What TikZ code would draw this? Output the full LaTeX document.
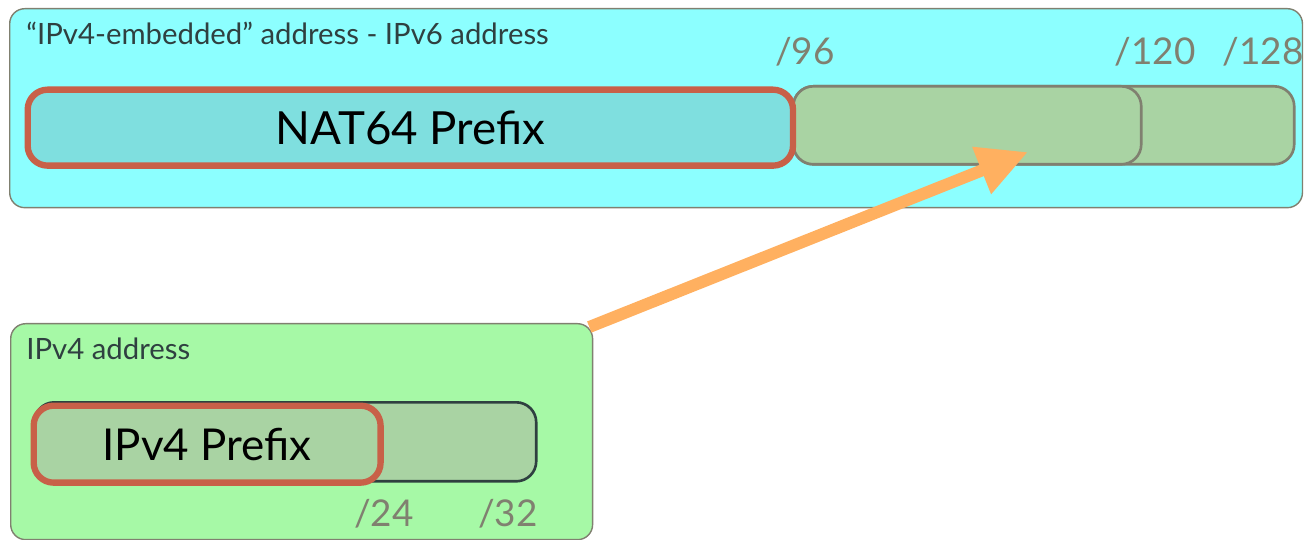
\documentclass[tikz,border=0pt]{standalone}
\usepackage{fontspec}
\setmainfont{Lato}
\usetikzlibrary{positioning,arrows.meta}
\definecolor{vsixbg}{HTML}{8CFFFF}
\definecolor{vfourbg}{HTML}{A6F9A6}
\definecolor{prefixfill}{HTML}{7FDFDF}
\definecolor{hostfill}{HTML}{A9D3A3}
\definecolor{prefixline}{HTML}{C86048}
\definecolor{greyline}{HTML}{808070}
\definecolor{darktext}{HTML}{2F4040}
\definecolor{arrowcol}{HTML}{FFB060}
\tikzset{
    area/.style={draw=greyline, line width=0.8pt, rounded corners=0.3cm, anchor=north west, inner sep=0pt},
    field/.style={draw=greyline, fill=hostfill, line width=1.5pt, rounded corners=0.4cm, anchor=north west, inner sep=0pt},
    prefixbox/.style={draw=prefixline, line width=3.6pt, rounded corners=0.4cm, anchor=north west, inner sep=0pt, font=\fontsize{26}{30}\selectfont},
    title/.style={anchor=north west, text=darktext, inner sep=0pt, font=\fontsize{16.7}{20}\selectfont},
    bits/.style={text=greyline, inner sep=0pt, font=\fontsize{21}{24}\selectfont}
}

\begin{document}
\begin{tikzpicture}[x=0.02cm, y=-0.02cm]
    \useasboundingbox (0,0) rectangle (1304,540);

    % IPv6 address with the embedded IPv4 part
    \node[area, fill=vsixbg, minimum width=25.86cm, minimum height=3.98cm] (v6) at (9,8) {};
    \node[title] (v6title) at (26,22) {“IPv4-embedded” address - IPv6 address};
    \node[field, minimum width=10.02cm, minimum height=1.56cm] (host6) at (792,85) {};
    \node[field, minimum width=6.96cm, minimum height=1.56cm] (embed) at (792,85) {};
    \node[prefixbox, fill=prefixfill, minimum width=15.31cm, minimum height=1.52cm] (nat64) at (24.5,86.5) {NAT64 Prefix};
    \node[bits] (b96) at (805,52) {/96};
    \node[bits] (b120) at (1155,52) {/120};
    \node[bits] (b128) at (1263,52) {/128};

    % IPv4 address
    \node[area, fill=vfourbg, minimum width=11.64cm, minimum height=4.32cm] (v4) at (10,323) {};
    \node[title] (v4title) at (26,338) {IPv4 address};
    \node[field, draw=darktext, minimum width=10.04cm, minimum height=1.58cm] (host4) at (33,401) {};
    \node[prefixbox, fill=hostfill, font=\fontsize{25}{29}\selectfont, minimum width=6.94cm, minimum height=1.54cm] (v4prefix) at (30.5,402.5) {IPv4 Prefix};
    \node[bits] (b24) at (384,514) {/24};
    \node[bits] (b32) at (508,514) {/32};

    % the IPv4 address goes into the bits after /96
    \coordinate (tip) at (1028,152);
    \draw[arrowcol, line width=0.24cm, -{Triangle[length=1cm, width=0.95cm]}] ([shift={(-4,4)}]v4.north east) -- (tip);
\end{tikzpicture}
\end{document}
